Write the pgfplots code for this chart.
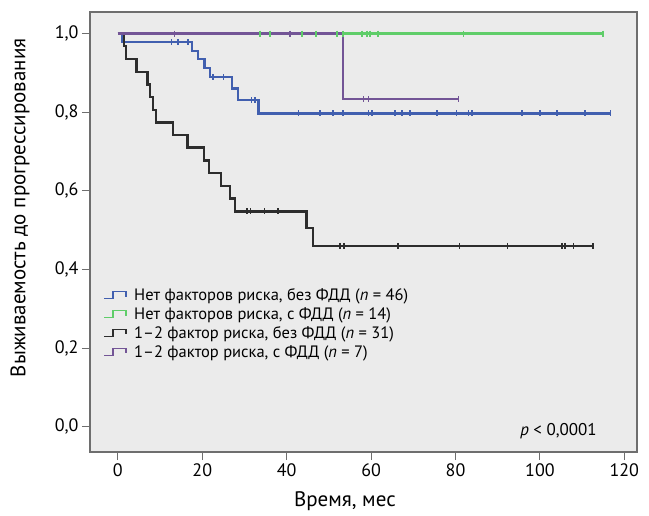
\documentclass[border=0pt]{standalone}
\usepackage{fontspec}
\setmainfont{PT Sans}
\usepackage{pgfplots}
\pgfplotsset{compat=1.18}
\definecolor{kmblue}{RGB}{65,95,175}
\definecolor{kmgreen}{RGB}{95,205,105}
\definecolor{kmblack}{RGB}{45,45,45}
\definecolor{kmpurple}{RGB}{115,85,150}
\definecolor{bggray}{RGB}{235,235,235}
\definecolor{framegray}{RGB}{110,110,110}
\pgfplotsset{
  kmline/.style={const plot, no marks, line width=2.4pt},
  cens/.style={only marks, mark=|, mark size=3pt, mark options={line width=1.6pt}},
}
\begin{document}
\begin{tikzpicture}
\begin{axis}[
  at={(0,0)}, anchor=south west,
  scale only axis, width=547pt, height=440pt,
  xmin=-6.6, xmax=123, ymin=-0.064, ymax=1.055,
  xtick={0,20,40,60,80,100,120},
  ytick={0,0.2,0.4,0.6,0.8,1.0},
  tick pos=left, tick align=outside, major tick length=8pt,
  tick style={draw=framegray, line width=1pt},
  axis background/.style={fill=bggray},
  axis line style={draw=framegray, line width=1.4pt},
  /pgf/number format/assume math mode=true,
  ticklabel style={font=\fontsize{18}{20}\selectfont},
  yticklabel style={/pgf/number format/.cd, fixed, fixed zerofill, precision=1, use comma},
  xlabel={Время, мес},
  ylabel={Выживаемость до прогрессирования},
  label style={font=\fontsize{21}{23}\selectfont},
  xlabel style={at={(axis description cs:0.466,0)}, anchor=center, yshift=-49pt},
  ylabel style={at={(axis description cs:-0.128,0.555)}, anchor=center},
  legend style={at={(axis description cs:0.022,0.378)}, anchor=north west, draw=none, fill=none,
    font=\fontsize{16.5}{18}\selectfont, row sep=1.5pt, inner sep=1pt},
  legend cell align=left,
  legend image code/.code={\draw[#1, line width=1.6pt] (0pt,-3pt) -- (9pt,-3pt) -- (9pt,4pt) -- (22pt,4pt) -- (22pt,-1pt); \path (28pt,0pt);},
]
% green (drawn first)
\addplot[kmline, kmgreen, forget plot] coordinates {(0,1) (115,1)};
\addplot[cens, kmgreen, forget plot] coordinates {(33.7,1) (36,1) (43.6,1) (47,1) (51.9,1) (53.4,1) (57.8,1) (59,1) (59.8,1) (61.7,1) (81.9,1) (115,1)};
% blue
\addplot[kmline, kmblue, forget plot] coordinates {(0,1) (1,0.978) (17.5,0.956) (19,0.935) (20.5,0.913) (21.8,0.889) (27,0.860) (28.5,0.831) (33.3,0.797) (116.7,0.797)};
\addplot[cens, kmblue, forget plot] coordinates {(12.7,0.978) (14.3,0.978) (16.6,0.978) (22.6,0.889) (25,0.889) (31.7,0.831) (32.5,0.831)
 (42.8,0.797) (47.9,0.797) (51,0.797) (53.4,0.797) (59.4,0.797) (60.2,0.797) (65.7,0.797) (67.3,0.797) (69.2,0.797) (75.6,0.797) (80.2,0.797) (83.1,0.797) (83.9,0.797) (95.7,0.797) (100,0.797) (104,0.797) (110.7,0.797) (116.7,0.797)};
% black
\addplot[kmline, kmblack, forget plot] coordinates {(0,1) (1.5,0.968) (2,0.935) (4.4,0.903) (7,0.871) (7.6,0.839) (8.3,0.806) (9,0.774) (13,0.742) (16.5,0.710) (20.4,0.677) (21.6,0.645) (24.4,0.613) (26.6,0.581) (27.7,0.548) (44.7,0.506) (46.3,0.460) (112.6,0.460)};
\addplot[cens, kmblack, forget plot] coordinates {(30.6,0.548) (31.4,0.548) (34.7,0.548) (38,0.548) (52.6,0.460) (53.6,0.460) (66.4,0.460) (80.9,0.460) (92.3,0.460) (105.2,0.460) (106,0.460) (108,0.460) (112.6,0.460)};
% purple
\addplot[kmline, kmpurple, forget plot] coordinates {(0,1) (53.3,0.833) (80.7,0.833)};
\addplot[cens, kmpurple, forget plot] coordinates {(13.4,1) (40.8,1) (58.2,0.833) (59.4,0.833) (80.7,0.833)};
% legend
\addlegendimage{kmblue}
\addlegendentry{Нет факторов риска, без ФДД (\textit{n} = 46)}
\addlegendimage{kmgreen}
\addlegendentry{Нет факторов риска, с ФДД (\textit{n} = 14)}
\addlegendimage{kmblack}
\addlegendentry{1–2 фактор риска, без ФДД (\textit{n} = 31)}
\addlegendimage{kmpurple}
\addlegendentry{1–2 фактор риска, с ФДД (\textit{n} = 7)}
\node[anchor=base east, font=\fontsize{17}{19}\selectfont] at (axis cs:114.3,-0.023) {\textit{p} < 0,0001};
\end{axis}
\pgfresetboundingbox
\path[use as bounding box] (-90pt,-63pt) rectangle (559pt,452pt);
\end{tikzpicture}
\end{document}
